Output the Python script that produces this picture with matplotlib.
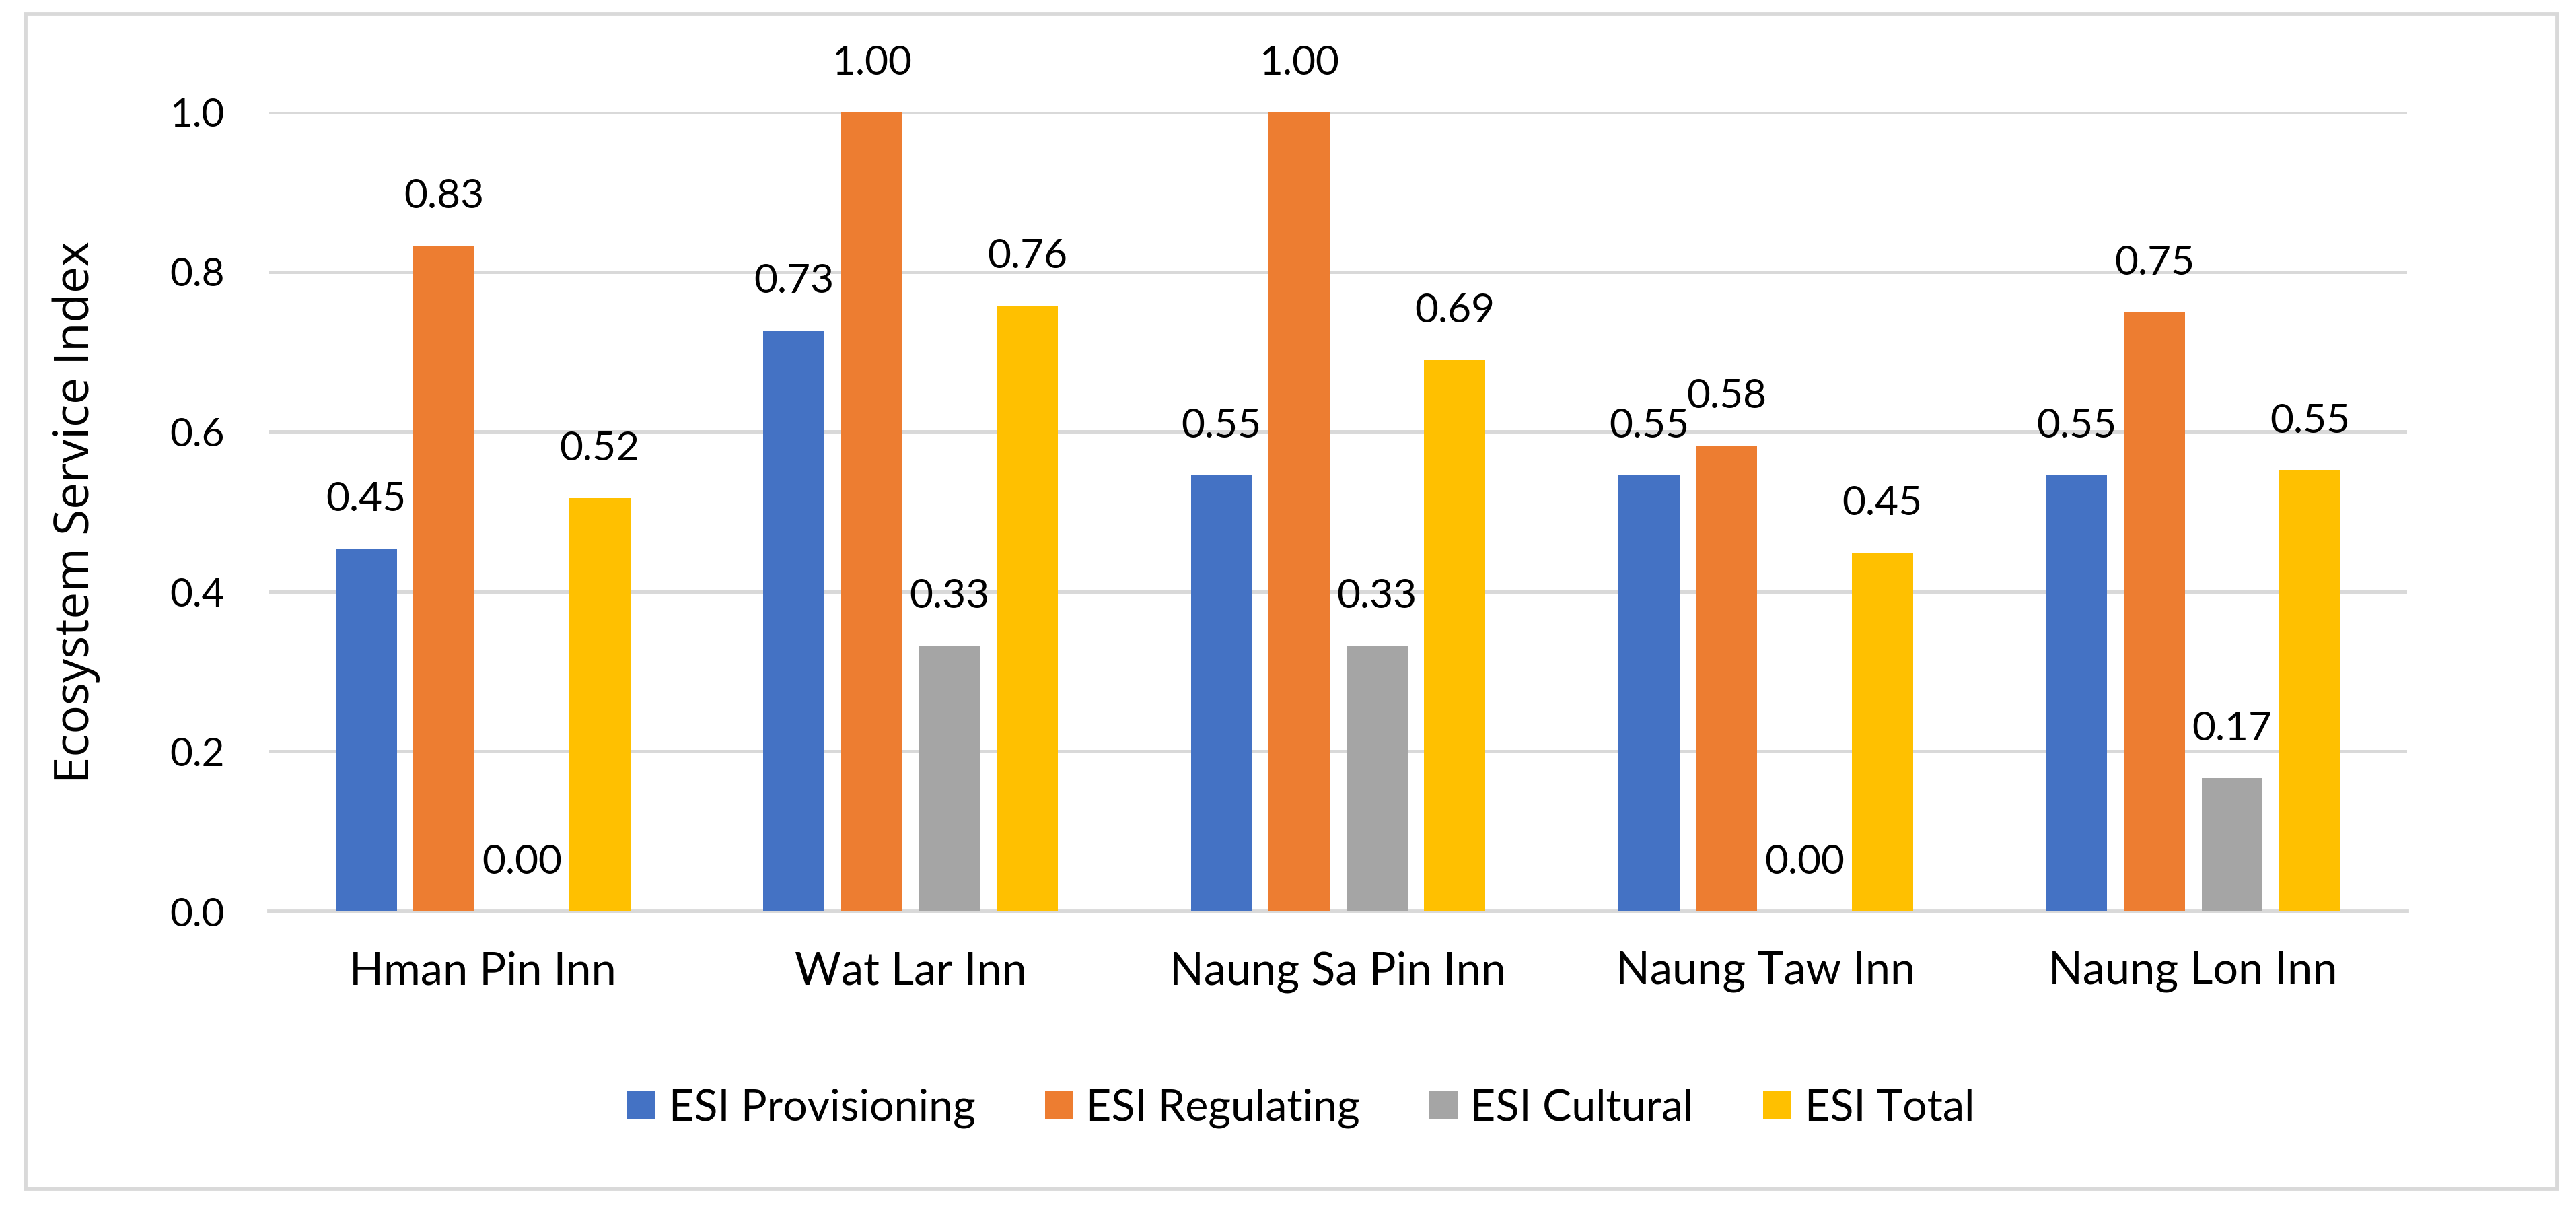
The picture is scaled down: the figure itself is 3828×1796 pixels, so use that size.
"""
Ecosystem Service Index by village.
"""

import matplotlib.pyplot as plt
import numpy as np
from matplotlib.patches import Rectangle

villages = ["Hman Pin Inn", "Wat Lar Inn", "Naung Sa Pin Inn", "Naung Taw Inn", "Naung Lon Inn"]
esi_provisioning = [0.454, 0.727, 0.546, 0.546, 0.546]
esi_regulating = [0.833, 1.0, 1.0, 0.583, 0.75]
esi_cultural = [0.0, 0.333, 0.333, 0.0, 0.167]
esi_total = [0.517, 0.758, 0.690, 0.449, 0.552]
series_names = ["ESI Provisioning", "ESI Regulating", "ESI Cultural", "ESI Total"]
y_ticks = [0.0, 0.2, 0.4, 0.6, 0.8, 1.0]

colors = ["#4472C4", "#ED7D31", "#A5A5A5", "#FFC000"]
grid_color = "#D9D9D9"
font = "Lato"

fig = plt.figure(figsize=(12.76, 5.9867), dpi=300)
ax = fig.add_axes([0.1045, 0.2461, 0.8299, 0.6612])

# outer chart border
fig.patches.append(Rectangle((38 / 3828, 1 - 1766 / 1796), (3800 - 38) / 3828, (1766 - 21) / 1796,
                             transform=fig.transFigure, fill=False, edgecolor=grid_color,
                             linewidth=1.4, zorder=0))

x = np.arange(len(villages))
step = 0.182
width = 0.143
all_series = [esi_provisioning, esi_regulating, esi_cultural, esi_total]

for i, (vals, name, color) in enumerate(zip(all_series, series_names, colors)):
    pos = x + (i - 1.5) * step
    ax.bar(pos, vals, width=width, color=color, label=name, zorder=3)
    for bx, v in zip(pos, vals):
        ax.annotate(f"{v:.2f}", (bx, v), xytext=(0, 11), textcoords="offset points",
                    ha="center", va="bottom", fontsize=14.5, family=font,
                    annotation_clip=False)

ax.set_xlim(-0.5, len(villages) - 0.5)
ax.set_ylim(0, 1.0)
ax.set_yticks(y_ticks)
ax.set_yticklabels([f"{t:.1f}" for t in y_ticks], family=font, fontsize=14)
ax.set_xticks(x)
ax.set_xticklabels(villages, family=font, fontsize=16)
ax.tick_params(axis="both", length=0)
ax.tick_params(axis="y", pad=16)
ax.tick_params(axis="x", pad=14)

ax.grid(axis="y", color=grid_color, linewidth=1.2, zorder=0)
for side in ["top", "right", "left"]:
    ax.spines[side].set_visible(False)
ax.spines["bottom"].set_color(grid_color)
ax.spines["bottom"].set_linewidth(1.4)

ax.set_ylabel("Ecosystem Service Index", family="Open Sans", fontsize=17)
ax.yaxis.set_label_coords(-0.079, 0.5)

fig.legend(loc="center", bbox_to_anchor=(0.505, 0.0835), ncol=4, frameon=False,
           prop={"family": font, "size": 15.5}, handlelength=0.65, handleheight=0.65,
           handletextpad=0.3, columnspacing=1.6)

fig.savefig("out.png", dpi=300)
